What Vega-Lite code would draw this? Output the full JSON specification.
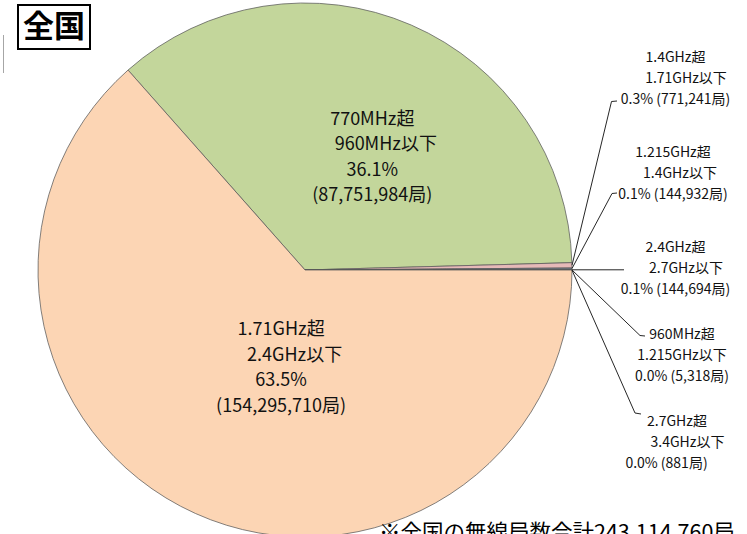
{
  "$schema": "https://vega.github.io/schema/vega-lite/v6.json",
  "width": 747,
  "height": 534,
  "padding": 0,
  "autosize": {"type": "none"},
  "background": "#ffffff",
  "config": {
    "view": {"stroke": null},
    "text": {"font": "Noto Sans CJK JP", "color": "#111111"}
  },
  "datasets": {
    "stations": [
      {"ord": 1, "band": "770MHz超960MHz以下", "count": 87751984, "label": ["770MHz超", "\u200b\u3000\u2002960MHz以下", "36.1%", "(87,751,984局)"]},
      {"ord": 2, "band": "1.4GHz超1.71GHz以下", "count": 771241, "label": [""]},
      {"ord": 3, "band": "1.215GHz超1.4GHz以下", "count": 144932, "label": [""]},
      {"ord": 4, "band": "2.4GHz超2.7GHz以下", "count": 144694, "label": [""]},
      {"ord": 5, "band": "960MHz超1.215GHz以下", "count": 5318, "label": [""]},
      {"ord": 6, "band": "2.7GHz超3.4GHz以下", "count": 881, "label": [""]},
      {"ord": 7, "band": "1.71GHz超2.4GHz以下", "count": 154295710, "label": ["1.71GHz超", "\u200b\u3000\u20022.4GHz以下", "63.5%", "(154,295,710局)"]}
    ],
    "callouts": [
      {"band": "1.4GHz超1.71GHz以下", "lx": 675.5, "ly": 55, "lines": ["1.4GHz超", "\u200b\u3000\u20021.71GHz以下", "0.3% (771,241局)"]},
      {"band": "1.215GHz超1.4GHz以下", "lx": 673, "ly": 150, "lines": ["1.215GHz超", "\u200b\u30001.4GHz以下", "0.1% (144,932局)"]},
      {"band": "2.4GHz超2.7GHz以下", "lx": 675.5, "ly": 245, "lines": ["2.4GHz超", "\u200b\u3000\u20022.7GHz以下", "0.1% (144,694局)"]},
      {"band": "960MHz超1.215GHz以下", "lx": 682, "ly": 332, "lines": ["960MHz超", "1.215GHz以下", "0.0% (5,318局)"]},
      {"band": "2.7GHz超3.4GHz以下", "lx": 677, "ly": 419, "lines": ["2.7GHz超", "\u200b\u3000\u20023.4GHz以下", "0.0% (881局)\u3000\u2002\u200b"]}
    ],
    "leaders": [
      {"band": "1.4GHz超1.71GHz以下", "step": 1, "px": 572, "py": 265.3},
      {"band": "1.4GHz超1.71GHz以下", "step": 2, "px": 611.5, "py": 101.5},
      {"band": "1.4GHz超1.71GHz以下", "step": 3, "px": 617, "py": 101},
      {"band": "1.215GHz超1.4GHz以下", "step": 1, "px": 572, "py": 268.5},
      {"band": "1.215GHz超1.4GHz以下", "step": 2, "px": 612, "py": 193.5},
      {"band": "1.215GHz超1.4GHz以下", "step": 3, "px": 617, "py": 193},
      {"band": "2.4GHz超2.7GHz以下", "step": 1, "px": 572, "py": 269.8},
      {"band": "2.4GHz超2.7GHz以下", "step": 2, "px": 624, "py": 269.8},
      {"band": "960MHz超1.215GHz以下", "step": 1, "px": 572, "py": 270},
      {"band": "960MHz超1.215GHz以下", "step": 2, "px": 640, "py": 335.5},
      {"band": "960MHz超1.215GHz以下", "step": 3, "px": 645, "py": 336},
      {"band": "2.7GHz超3.4GHz以下", "step": 1, "px": 572, "py": 270.2},
      {"band": "2.7GHz超3.4GHz以下", "step": 2, "px": 635, "py": 413},
      {"band": "2.7GHz超3.4GHz以下", "step": 3, "px": 641, "py": 414}
    ]
  },
  "layer": [
    {
      "description": "thin frame edge at the left",
      "data": {"values": [{}]},
      "mark": {"type": "rule", "stroke": "#a6a6a6", "strokeWidth": 1},
      "encoding": {
        "x": {"datum": 3.5, "type": "quantitative", "scale": {"domain": [0, 747], "nice": false, "zero": false}, "axis": null},
        "y": {"datum": 35, "type": "quantitative", "scale": {"domain": [0, 534], "nice": false, "zero": false, "reverse": true}, "axis": null},
        "y2": {"datum": 73}
      }
    },
    {
      "description": "pie of station counts, starting just past 10 o'clock",
      "data": {"name": "stations"},
      "mark": {"type": "arc", "outerRadius": 267, "stroke": "#595959", "strokeWidth": 0.75},
      "encoding": {
        "x": {"datum": 305, "type": "quantitative"},
        "y": {"datum": 270, "type": "quantitative"},
        "theta": {"field": "count", "type": "quantitative", "stack": true, "scale": {"range": [-0.7246, 5.5586]}},
        "order": {"field": "ord", "type": "quantitative"},
        "color": {
          "field": "band", "type": "nominal", "legend": null,
          "scale": {
            "domain": ["770MHz超960MHz以下", "1.4GHz超1.71GHz以下", "1.215GHz超1.4GHz以下", "2.4GHz超2.7GHz以下", "960MHz超1.215GHz以下", "2.7GHz超3.4GHz以下", "1.71GHz超2.4GHz以下"],
            "range": ["#c3d69b", "#e6b9b8", "#93a9c8", "#7f7f7f", "#4f81bd", "#8064a2", "#fcd5b4"]
          }
        }
      }
    },
    {
      "description": "label inside the green slice",
      "data": {"name": "stations"},
      "mark": {"type": "text", "radius": 164, "dx": 2, "fontSize": 18, "lineHeight": 25.5, "align": "center", "baseline": "middle"},
      "encoding": {
        "x": {"datum": 305, "type": "quantitative"},
        "y": {"datum": 270, "type": "quantitative"},
        "theta": {"field": "count", "type": "quantitative", "stack": true},
        "order": {"field": "ord", "type": "quantitative"},
        "text": {"condition": {"test": "datum.ord === 1", "field": "label"}, "value": ""}
      }
    },
    {
      "description": "label inside the peach slice",
      "data": {"name": "stations"},
      "mark": {"type": "text", "radius": 63, "dx": 2, "dy": 3, "fontSize": 18, "lineHeight": 25.5, "align": "center", "baseline": "middle"},
      "encoding": {
        "x": {"datum": 305, "type": "quantitative"},
        "y": {"datum": 270, "type": "quantitative"},
        "theta": {"field": "count", "type": "quantitative", "stack": true},
        "order": {"field": "ord", "type": "quantitative"},
        "text": {"condition": {"test": "datum.ord === 7", "field": "label"}, "value": ""}
      }
    },
    {
      "description": "leader lines to the small-slice callouts",
      "data": {"name": "leaders"},
      "mark": {"type": "line", "stroke": "#262626", "strokeWidth": 1},
      "encoding": {
        "x": {"field": "px", "type": "quantitative"},
        "y": {"field": "py", "type": "quantitative"},
        "detail": {"field": "band"},
        "order": {"field": "step", "type": "quantitative"}
      }
    },
    {
      "description": "callout text for the small slices",
      "data": {"name": "callouts"},
      "mark": {"type": "text", "fontSize": 14, "lineHeight": 20.8, "dy": 3, "align": "center", "baseline": "middle"},
      "encoding": {
        "x": {"field": "lx", "type": "quantitative"},
        "y": {"field": "ly", "type": "quantitative"},
        "text": {"field": "lines"}
      }
    },
    {
      "description": "boxed heading",
      "data": {"values": [{}]},
      "mark": {"type": "rect", "fill": "#ffffff", "stroke": "#000000", "strokeWidth": 2},
      "encoding": {
        "x": {"datum": 18, "type": "quantitative"},
        "x2": {"datum": 90},
        "y": {"datum": 5, "type": "quantitative"},
        "y2": {"datum": 49}
      }
    },
    {
      "data": {"values": [{}]},
      "mark": {"type": "text", "text": "全国", "fontSize": 31, "fontWeight": "bold", "align": "center", "baseline": "middle", "color": "#000000"},
      "encoding": {
        "x": {"datum": 54, "type": "quantitative"},
        "y": {"datum": 28, "type": "quantitative"}
      }
    },
    {
      "description": "total footnote along the bottom edge",
      "data": {"values": [{}]},
      "mark": {"type": "text", "text": "※全国の無線局数合計243,114,760局", "fontSize": 21.5, "align": "left", "baseline": "top", "color": "#000000"},
      "encoding": {
        "x": {"datum": 379, "type": "quantitative"},
        "y": {"datum": 523, "type": "quantitative"}
      }
    }
  ]
}
